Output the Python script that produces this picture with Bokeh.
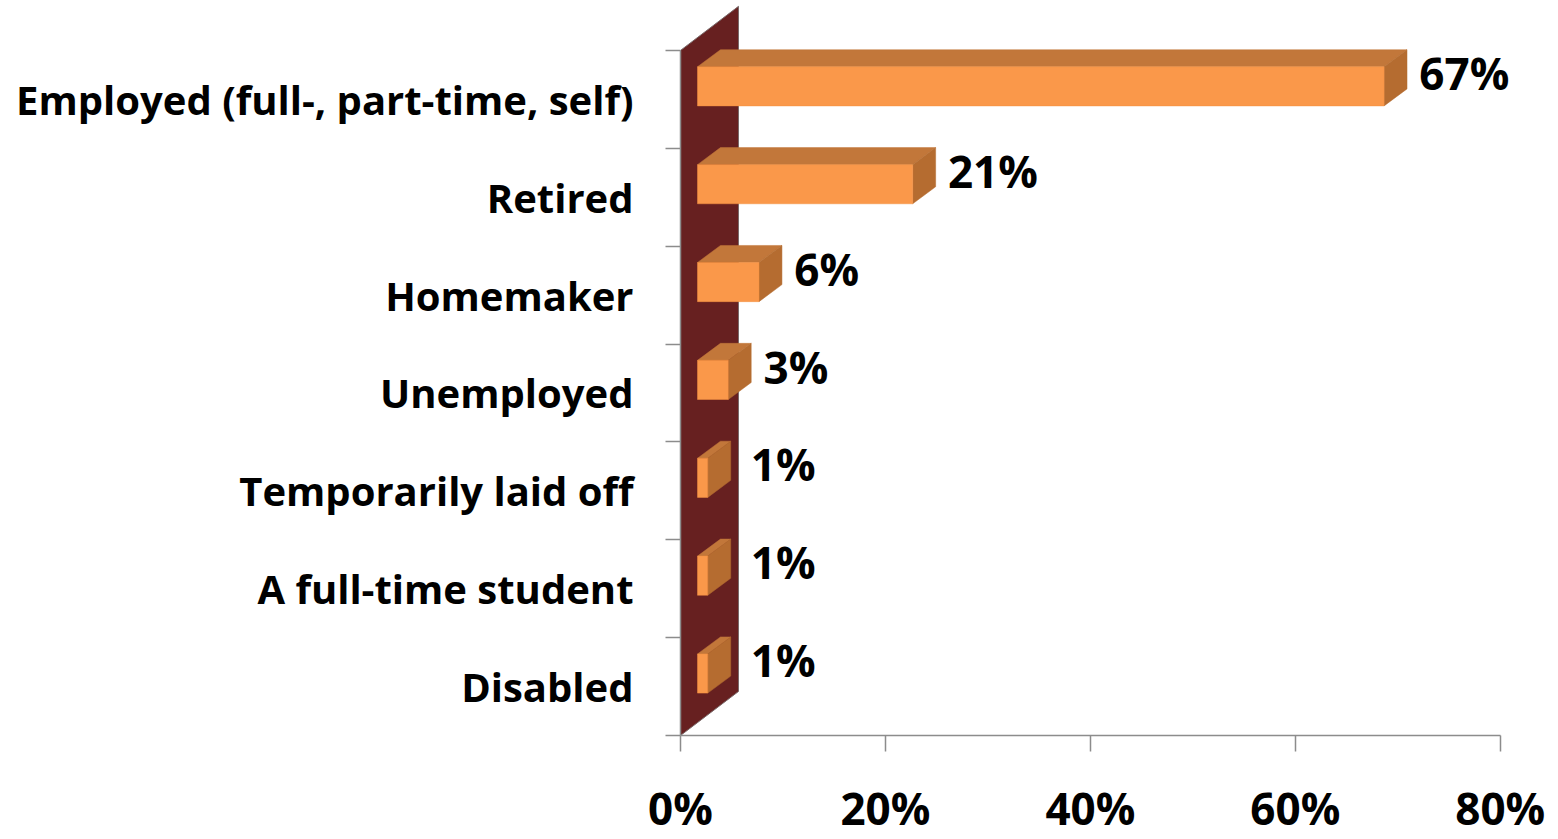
from bokeh.plotting import figure
from bokeh.models import Range1d, FixedTicker, CustomJSTickFormatter
from bokeh.core.properties import value
from bokeh.embed import file_html
from bokeh.resources import INLINE

# ---- data (bottom to top) ----
categories = ["Disabled", "A full-time student", "Temporarily laid off",
              "Unemployed", "Homemaker", "Retired",
              "Employed (full-, part-time, self)"]
values = [1, 1, 1, 3, 6, 21, 67]
value_labels = ["1%", "1%", "1%", "3%", "6%", "21%", "67%"]
x_ticks = [0, 20, 40, 60, 80]
x_tick_labels = ["0%", "20%", "40%", "60%", "80%"]

# ---- geometry / style ----
FONT = "Open Sans"
WALL_DX, WALL_DY = 5.66, 0.45      # depth of the side wall
FRONT_DX, FRONT_DY = 1.66, 0.133   # bar front face offset
BAR_DX, BAR_DY = 2.24, 0.174       # bar depth
HALF_H = 0.2
N = len(categories)

p = figure(frame_width=871, frame_height=735,
           x_range=Range1d(0, 85), y_range=Range1d(0, 7.51),
           output_backend="svg", toolbar_location=None,
           min_border_left=680, min_border_right=5,
           min_border_top=0, min_border_bottom=104,
           background_fill_color="white", border_fill_color="white")
p.outline_line_color = None
p.grid.visible = False

# side wall
p.patch([0, 0, WALL_DX, WALL_DX], [0, N, N + WALL_DY, WALL_DY],
        fill_color="#672020", line_color="#7a6a6a", line_width=1)

# bars
top_xs, top_ys, side_xs, side_ys, front_xs, front_ys = [], [], [], [], [], []
lx, ly = [], []
for i, v in enumerate(values):
    c = i + 0.5
    x0 = FRONT_DX
    x1 = FRONT_DX + v
    yb = c - HALF_H + FRONT_DY
    yt = c + HALF_H + FRONT_DY
    front_xs.append([x0, x1, x1, x0]); front_ys.append([yb, yb, yt, yt])
    top_xs.append([x0, x1, x1 + BAR_DX, x0 + BAR_DX])
    top_ys.append([yt, yt, yt + BAR_DY, yt + BAR_DY])
    side_xs.append([x1, x1 + BAR_DX, x1 + BAR_DX, x1])
    side_ys.append([yb, yb + BAR_DY, yt + BAR_DY, yt])
    lx.append(max(x1 + BAR_DX, WALL_DX) + 1.2)
    ly.append(c + 0.27)

p.patches(top_xs, top_ys, fill_color="#C2773A", line_color="#C2773A", line_width=0.5)
p.patches(side_xs, side_ys, fill_color="#B56C30", line_color="#B56C30", line_width=0.5)
p.patches(front_xs, front_ys, fill_color="#FA984A", line_color="#F59040", line_width=0.5)

p.text(lx, ly, text=value_labels, text_font=value(FONT), text_font_style="bold",
       text_font_size="44px", text_color="black",
       text_align="left", text_baseline="middle")

# axes
for ax in (p.xaxis[0], p.yaxis[0]):
    ax.axis_line_color = "#8c8c8c"
    ax.axis_line_width = 1.5
    ax.major_tick_line_color = "#8c8c8c"
    ax.major_tick_line_width = 1.5
    ax.minor_tick_line_color = "#8c8c8c"
    ax.minor_tick_line_width = 1.5
    ax.major_label_text_font = FONT
    ax.major_label_text_font_style = "bold"
    ax.major_label_text_color = "black"

xa = p.xaxis[0]
xa.bounds = (0, 80)
xa.ticker = FixedTicker(ticks=x_ticks)
xa.major_label_overrides = {t: l for t, l in zip(x_ticks, x_tick_labels)}
xa.major_tick_out = 16
xa.major_tick_in = 0
xa.major_label_standoff = 26
xa.major_label_text_font_size = "44px"

ya = p.yaxis[0]
ya.bounds = (0, N)
ya.ticker = FixedTicker(ticks=[i + 0.5 for i in range(N)],
                        minor_ticks=list(range(N + 1)))
ya.formatter = CustomJSTickFormatter(args=dict(labels=categories),
                                     code="return labels[Math.round(tick - 0.5)];")
ya.major_tick_out = 0
ya.major_tick_in = 0
ya.minor_tick_out = 15
ya.minor_tick_in = 0
ya.major_label_standoff = 32
ya.major_label_text_font_size = "40px"

open("out.html", "w").write(file_html(p, INLINE))
